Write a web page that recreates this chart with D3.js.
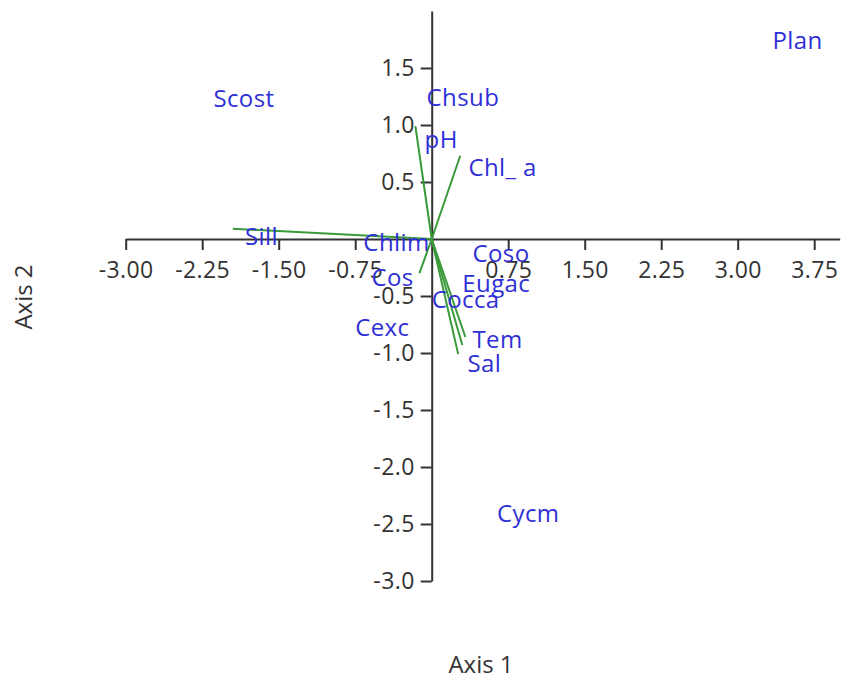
<!DOCTYPE html>
<html>
<head>
<meta charset="utf-8">
<script src="https://cdn.jsdelivr.net/npm/d3@7"></script>
<style>
  body { margin: 0; background: #fff; }
  svg { display: block; }
</style>
</head>
<body>
<div id="chart"></div>
<script>
// tick values for both axes
const xTicks = [-3.00, -2.25, -1.50, -0.75, 0, 0.75, 1.50, 2.25, 3.00, 3.75];
const yTicks = [-3.0, -2.5, -2.0, -1.5, -1.0, -0.5, 0, 0.5, 1.0, 1.5];

// biplot vectors (environmental variables), end points in axis units
const vecNames = ["pH", "Chl_a", "Sill", "Cos", "Tem", "Sal", "Sal2"];
const vecX = [-0.16, 0.28, -1.95, -0.12, 0.33, 0.26, 0.30];
const vecY = [0.99, 0.73, 0.09, -0.30, -0.86, -1.01, -0.93];

// text labels, left edge / middle in axis units
const labNames = ["Plan", "Scost", "Chsub", "pH", "Chl_ a", "Sill", "Chlim", "Cos", "Coso", "Eugac", "Cocca", "Cexc", "Tem", "Sal", "Cycm"];
const labX = [3.34, -2.14, -0.05, -0.07, 0.36, -1.83, -0.67, -0.59, 0.40, 0.30, 0.00, -0.75, 0.40, 0.35, 0.64];
const labY = [1.75, 1.24, 1.25, 0.88, 0.64, 0.03, -0.02, -0.33, -0.12, -0.38, -0.52, -0.77, -0.87, -1.08, -2.40];

const width = 843, height = 681;
const fontFam = "'Open Sans', 'Noto Sans', sans-serif";

const svg = d3.select("#chart").append("svg")
  .attr("width", width).attr("height", height);

const x = d3.scaleLinear().domain([-3, 4]).range([125.7, 839.7]);
const y = d3.scaleLinear().domain([-3, 2]).range([581, 11]);

const x0 = x(0), y0 = y(0);

// plain hyphen for negatives, like the original
const fmt = p => d => d === 0 ? "" : d3.format(p)(d).replace("\u2212", "-");

// x axis through origin
const xAxis = svg.append("g")
  .attr("transform", "translate(0," + y0 + ")")
  .call(d3.axisBottom(x)
    .tickValues(xTicks)
    .tickSize(11)
    .tickSizeOuter(0)
    .tickPadding(12)
    .tickFormat(fmt(".2f")));

// y axis through origin
const yAxis = svg.append("g")
  .attr("transform", "translate(" + x0 + ",0)")
  .call(d3.axisLeft(y)
    .tickValues(yTicks)
    .tickSize(11)
    .tickSizeOuter(0)
    .tickPadding(6)
    .tickFormat(fmt(".1f")));

[xAxis, yAxis].forEach(g => {
  g.select(".domain").attr("stroke", "#333").attr("stroke-width", 2);
  g.selectAll(".tick line").attr("stroke", "#333").attr("stroke-width", 2);
  g.selectAll(".tick text")
    .attr("fill", "#333")
    .attr("font-family", fontFam)
    .attr("font-size", "23px")
    .attr("letter-spacing", "0.4px");
});
xAxis.selectAll(".tick").filter(d => d === 0).select("line").remove();
yAxis.selectAll(".tick").filter(d => d === 0).select("line").remove();

// vectors
svg.append("g").selectAll("line")
  .data(vecNames.map((n, i) => ({name: n, vx: vecX[i], vy: vecY[i]})))
  .enter().append("line")
  .attr("x1", x0).attr("y1", y0)
  .attr("x2", d => x(d.vx)).attr("y2", d => y(d.vy))
  .attr("stroke", "#3a9a3a")
  .attr("stroke-width", 2);

// labels
svg.append("g").selectAll("text")
  .data(labNames.map((n, i) => ({name: n, lx: labX[i], ly: labY[i]})))
  .enter().append("text")
  .attr("x", d => x(d.lx))
  .attr("y", d => y(d.ly))
  .attr("dominant-baseline", "central")
  .attr("font-family", fontFam)
  .attr("font-size", "24px")
  .attr("letter-spacing", "0.4px")
  .attr("fill", "#2f2fd6")
  .text(d => d.name);

// axis titles
svg.append("text")
  .attr("x", 481).attr("y", 663)
  .attr("text-anchor", "middle")
  .attr("dominant-baseline", "central")
  .attr("font-family", fontFam)
  .attr("font-size", "24px")
  .attr("fill", "#333")
  .text("Axis 1");

svg.append("text")
  .attr("transform", "translate(22,297) rotate(-90)")
  .attr("text-anchor", "middle")
  .attr("dominant-baseline", "central")
  .attr("font-family", fontFam)
  .attr("font-size", "24px")
  .attr("fill", "#333")
  .text("Axis 2");
</script>
</body>
</html>
